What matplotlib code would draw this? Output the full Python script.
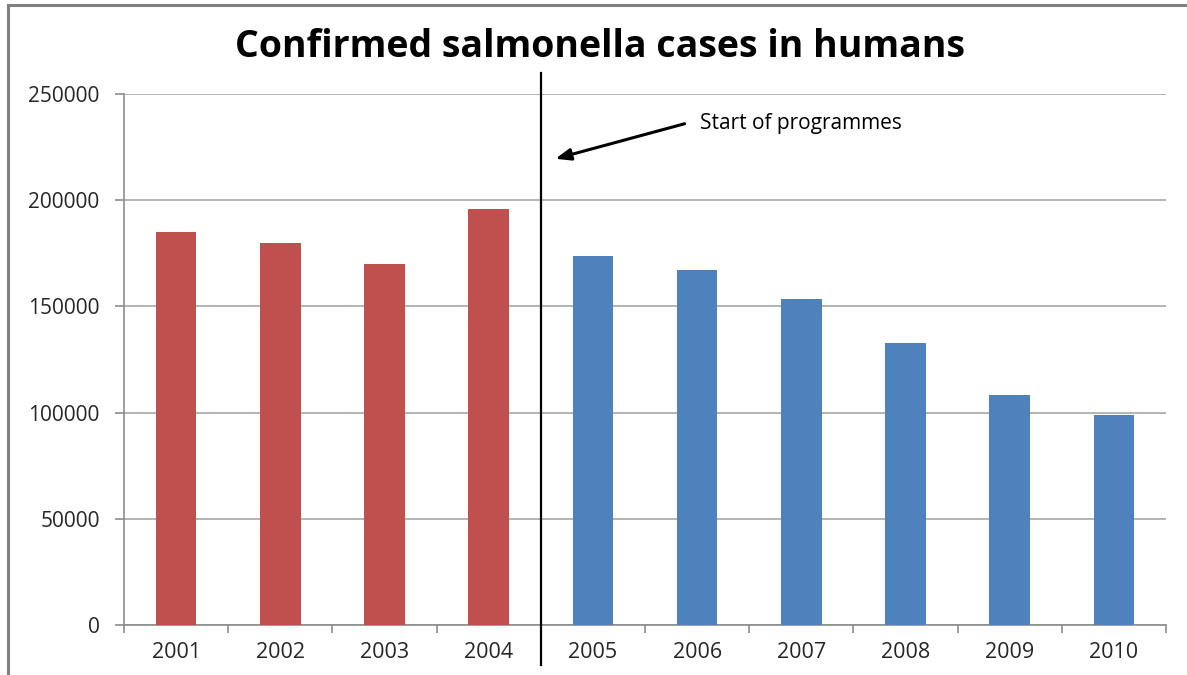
import matplotlib
matplotlib.use("Agg")
import matplotlib.pyplot as plt
from matplotlib.lines import Line2D
import numpy as np

years = ["2001", "2002", "2003", "2004", "2005", "2006", "2007", "2008", "2009", "2010"]
cases = [185000, 180000, 170000, 195700, 173700, 167000, 153500, 132800, 108300, 98900]
bar_colors = ["#C0504D"] * 4 + ["#4F81BD"] * 6
y_ticks = [0, 50000, 100000, 150000, 200000, 250000]
title = "Confirmed salmonella cases in humans"
annotation = "Start of programmes"

plt.rcParams['font.family'] = ['Open Sans', 'DejaVu Sans']

fig = plt.figure(figsize=(11.87, 6.75), dpi=100)
W, H = 1187, 675
ax = fig.add_axes([124 / W, 1 - 625 / H, (1166 - 124) / W, (625 - 94) / H])

x = np.arange(len(years))
ax.bar(x, cases, width=0.39, color=bar_colors, zorder=3)

ax.set_xlim(-0.5, len(years) - 0.5)
ax.set_ylim(0, 250000)
ax.set_yticks(y_ticks)
ax.set_yticklabels([str(v) for v in y_ticks], color="#262626", fontsize=15)
ax.set_xticks(x)
ax.set_xticklabels(years, color="#262626", fontsize=15.5)
ax.tick_params(axis='x', length=0, pad=12)
ax.set_xticks(np.arange(-0.5, len(years), 1.0), minor=True)
ax.tick_params(axis='x', which='minor', length=6, color="#8c8c8c", width=1.2)
ax.tick_params(axis='y', length=6.5, color="#8c8c8c", width=1.2, pad=11)

ax.grid(axis='y', color="#b3b3b3", linewidth=1.4, zorder=0)
for s in ['top', 'right']:
    ax.spines[s].set_visible(False)
for s in ['left', 'bottom']:
    ax.spines[s].set_color("#8c8c8c")
    ax.spines[s].set_linewidth(1.2)

# vertical divider between 2004 and 2005
ax.plot([3.5, 3.5], [-0.075, 1.04], transform=ax.get_xaxis_transform(),
        color="black", linewidth=1.6, clip_on=False, zorder=5)

ax.annotate("", xy=(3.64, 0.878), xytext=(4.88, 0.944),
            xycoords=ax.get_xaxis_transform(), textcoords=ax.get_xaxis_transform(),
            arrowprops=dict(arrowstyle="-|>,head_length=0.9,head_width=0.35",
                            color="black", lw=2.2, shrinkA=0, shrinkB=0))
ax.text(5.03, 0.944, annotation, transform=ax.get_xaxis_transform(),
        fontsize=15, color="black", va="center", ha="left")

fig.text(600 / W, 1 - 47 / H, title, fontsize=27, fontweight='bold',
         ha="center", va="center", color="black")

# outer frame (left and top edges)
fig.add_artist(Line2D([8 / W, 8 / W], [0, 1 - 5 / H], transform=fig.transFigure,
                      color="#808080", linewidth=2.2))
fig.add_artist(Line2D([8 / W, 1], [1 - 5 / H, 1 - 5 / H], transform=fig.transFigure,
                      color="#808080", linewidth=2.2))

fig.savefig("out.png", dpi=100)
